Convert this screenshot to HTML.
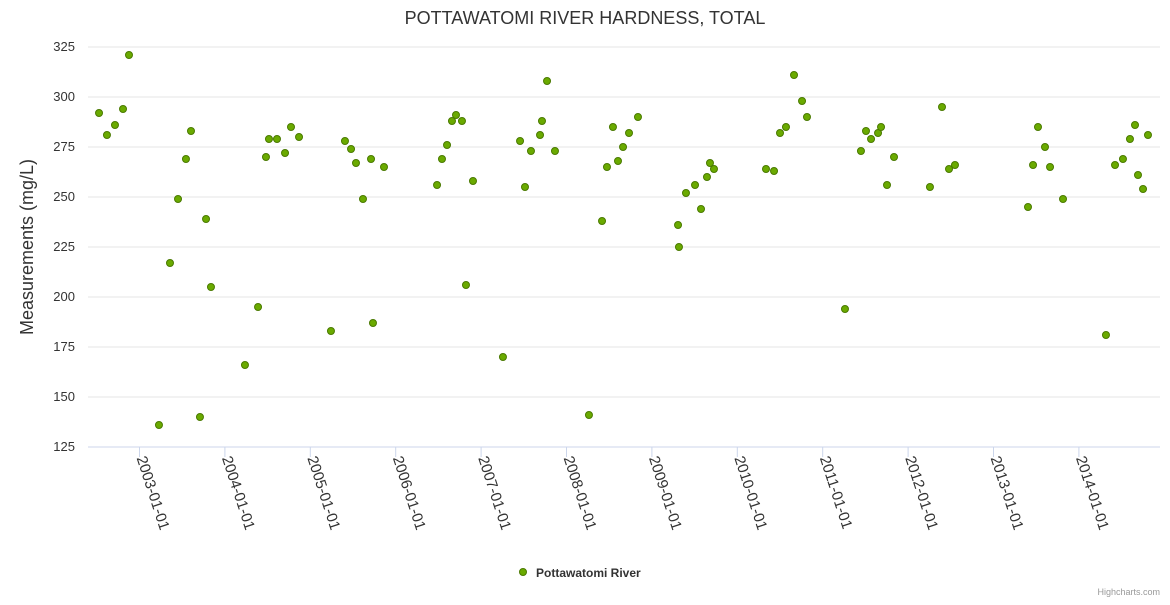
<!DOCTYPE html>
<html><head><meta charset="utf-8"><style>
body{margin:0;background:#fff;font-family:"Liberation Sans",sans-serif;}
svg text{font-family:"Liberation Sans",sans-serif;}
</style></head><body>
<svg id="chart" width="1170" height="600">
<rect width="1170" height="600" fill="#fff"/>
<text x="585" y="24" text-anchor="middle" font-size="18" fill="#333">POTTAWATOMI RIVER HARDNESS, TOTAL</text>
<text transform="translate(33,247) rotate(-90)" text-anchor="middle" font-size="18" fill="#333">Measurements (mg/L)</text>
<g id="grid"></g><g id="xaxis"></g><g id="pts"></g>
<g>
<circle cx="523" cy="572" r="3.5" fill="#6aaa00" stroke="#4a7a00" stroke-width="1"/>
<text x="536" y="577" font-size="12" font-weight="bold" fill="#333">Pottawatomi River</text>
</g>
<text x="1160" y="595" text-anchor="end" font-size="9" fill="#999">Highcharts.com</text>
</svg>
<script>
const yTicks=[125,150,175,200,225,250,275,300,325];
const xTickYears=[2003,2004,2005,2006,2007,2008,2009,2010,2011,2012,2013,2014];
const xPix=[99,107,115,123,129,159,170,178,186,191,200,206,211,245,258,266,269,277,285,291,299,331,345,351,356,363,371,373,384,437,442,447,452,456,462,466,473,503,520,525,531,540,542,547,555,589,602,607,613,618,623,629,638,678,679,686,695,701,707,710,714,766,774,780,786,794,802,807,845,861,866,871,878,881,887,894,930,942,949,955,1028,1033,1038,1045,1050,1063,1106,1115,1123,1130,1135,1138,1143,1148];
const dates=xPix.map(p=>+(2003+(p-139.5)/85.4).toFixed(3));
const values=[292,281,286,294,321,136,217,249,269,283,140,239,205,166,195,270,279,279,272,285,280,183,278,274,267,249,269,187,265,256,269,276,288,291,288,206,258,170,278,255,273,281,288,308,273,141,238,265,285,268,275,282,290,236,225,252,256,244,260,267,264,264,263,282,285,311,298,290,194,273,283,279,282,285,256,270,255,295,264,266,245,266,285,275,265,249,181,266,269,279,286,261,254,281];
const NS='http://www.w3.org/2000/svg';
const L=88,R=1160;
const yS=v=>447-(v-125)*2;
const xS=t=>139.5+(t-2003)*85.4;
function mk(tag,attrs,parent){const e=document.createElementNS(NS,tag);for(const k in attrs)e.setAttribute(k,attrs[k]);parent.appendChild(e);return e;}
const grid=document.getElementById('grid');
yTicks.forEach(v=>{
 const ln=mk('line',{x1:L,x2:R,y1:yS(v),y2:yS(v),stroke:v===125?'#ccd6eb':'#e6e6e6','stroke-width':1},grid);
 
 
 const t=mk('text',{x:75,y:yS(v)+4,'text-anchor':'end','font-size':13,fill:'#333'},grid);
 t.textContent=v;
 
 
});
const xa=document.getElementById('xaxis');
xTickYears.forEach(y=>{
 const x=xS(y);
 const tk=mk('line',{x1:x,x2:x,y1:447,y2:457,stroke:'#ccd6eb'},xa);
 
 
 const t=mk('text',{transform:`translate(${x-3},${458}) rotate(72)`,'font-size':15,fill:'#333'},xa);
 t.textContent=y+'-01-01';
 
 
});
const pts=document.getElementById('pts');
dates.forEach((d,i)=>{
 const c=mk('circle',{cx:xS(d),cy:yS(values[i]),r:3.5,fill:'#6aaa00',stroke:'#4a7a00','stroke-width':1},pts);
 
 
});
</script>
</body></html>
